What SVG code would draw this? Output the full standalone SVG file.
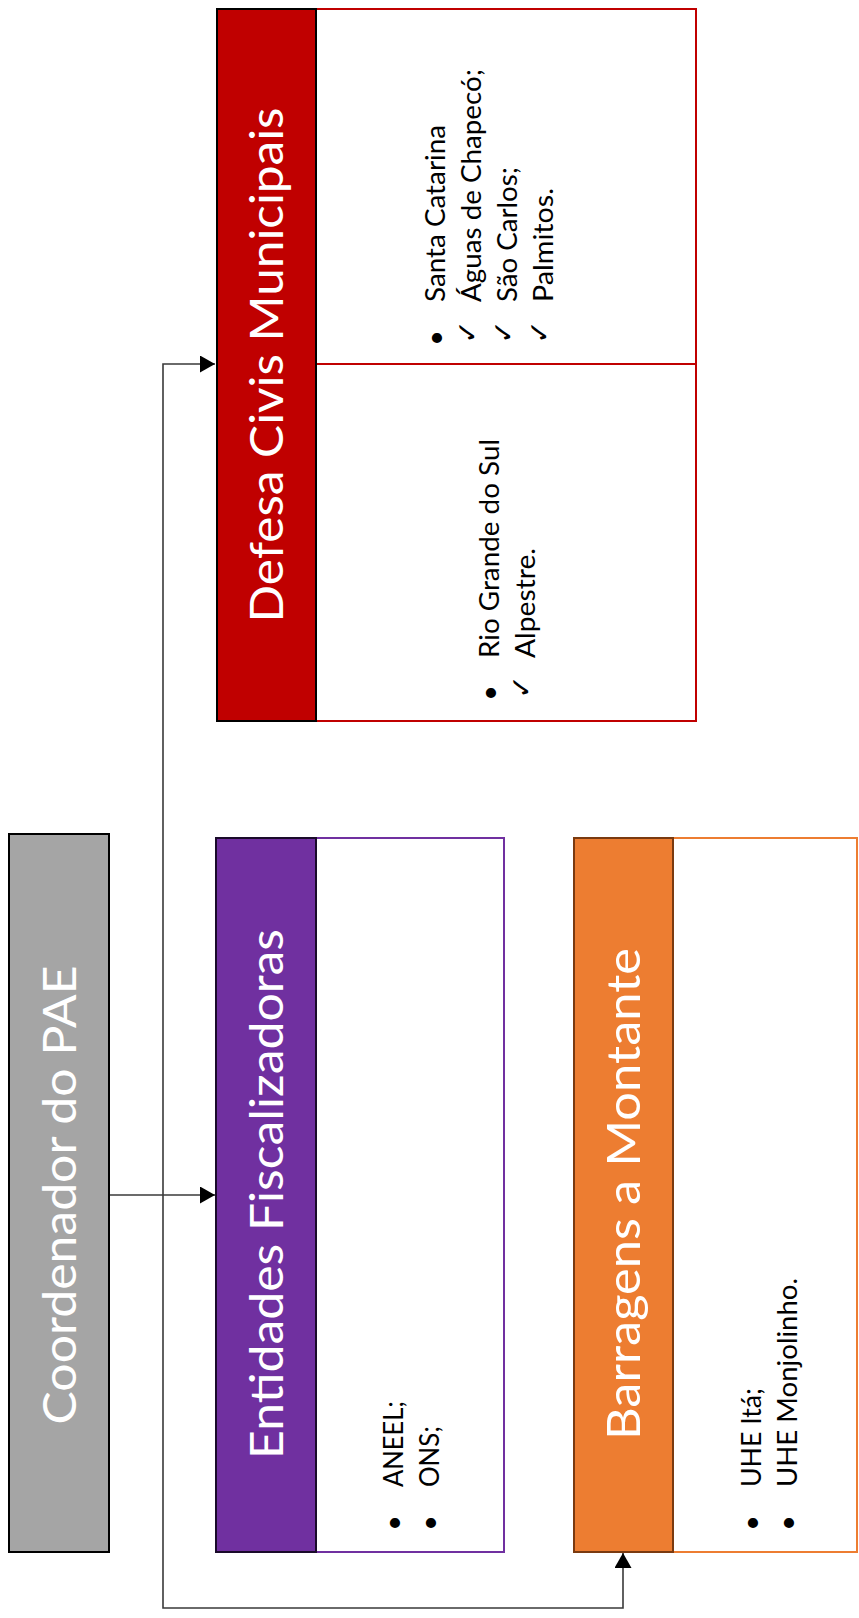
<svg xmlns="http://www.w3.org/2000/svg" width="859" height="1618" viewBox="0 0 859 1618">
  <style>
    .hdr { font-family: Lato, "Noto Sans", sans-serif; font-weight: 400; font-size: 46px; fill: #ffffff; text-anchor: middle; }
    .item { font-family: Lato, "Noto Sans", sans-serif; font-size: 27px; fill: #000000; }
    .dot { font-family: Lato, "Noto Sans", sans-serif; font-size: 27px; fill: #000000; text-anchor: middle; }
    .chk { font-family: "DejaVu Sans", sans-serif; font-size: 28px; fill: #000000; text-anchor: middle; }
    .wire { fill: none; stroke: #3a3a3a; stroke-width: 1.6; }
    .body { fill: #ffffff; stroke-width: 2; }
    .head { stroke-width: 2; }
  </style>
  <defs>
    <marker id="arrow" markerUnits="userSpaceOnUse" markerWidth="16" markerHeight="18" refX="15" refY="8.5" orient="auto">
      <path d="M0,0 L15,8.5 L0,17 z" fill="#000000"/>
    </marker>
  </defs>

  <rect width="859" height="1618" fill="#ffffff"/>

  <!-- connectors -->
  <g id="connectors">
    <path class="wire" d="M109,1195 H215" marker-end="url(#arrow)"/>
    <path class="wire" d="M163,1195 V364 H215" marker-end="url(#arrow)"/>
    <path class="wire" d="M163,1195 V1608 H623 V1553" marker-end="url(#arrow)"/>
  </g>

  <!-- coordinator -->
  <g id="coordenador">
    <rect x="9" y="834" width="100" height="718" fill="#a5a5a5" stroke="#000000" stroke-width="2"/>
    <text class="hdr" transform="translate(75.5,1195) rotate(-90)" textLength="459" lengthAdjust="spacingAndGlyphs">Coordenador do PAE</text>
  </g>

  <!-- municipal civil defence -->
  <g id="defesa-civil">
    <rect class="body" x="316" y="9" width="380" height="712" stroke="#c00000"/>
    <line x1="316" y1="364" x2="696" y2="364" stroke="#c00000" stroke-width="2"/>
    <rect class="head" x="217" y="9" width="99" height="712" fill="#c00000" stroke="#000000"/>
    <text class="hdr" transform="translate(282.5,365) rotate(-90)" textLength="515" lengthAdjust="spacingAndGlyphs">Defesa Civis Municipais</text>

    <text class="dot" transform="translate(445,338) rotate(-90)">•</text>
    <text class="item" transform="translate(445,302) rotate(-90)" textLength="177" lengthAdjust="spacingAndGlyphs">Santa Catarina</text>
    <text class="chk" transform="translate(477,332) rotate(-90)">✓</text>
    <text class="item" transform="translate(481,302) rotate(-90)" textLength="233" lengthAdjust="spacingAndGlyphs">Águas de Chapecó;</text>
    <text class="chk" transform="translate(513,332) rotate(-90)">✓</text>
    <text class="item" transform="translate(517,302) rotate(-90)" textLength="135" lengthAdjust="spacingAndGlyphs">São Carlos;</text>
    <text class="chk" transform="translate(549,332) rotate(-90)">✓</text>
    <text class="item" transform="translate(553,302) rotate(-90)" textLength="114" lengthAdjust="spacingAndGlyphs">Palmitos.</text>

    <text class="dot" transform="translate(499,693) rotate(-90)">•</text>
    <text class="item" transform="translate(499,658) rotate(-90)" textLength="219" lengthAdjust="spacingAndGlyphs">Rio Grande do Sul</text>
    <text class="chk" transform="translate(531,687) rotate(-90)">✓</text>
    <text class="item" transform="translate(535,658) rotate(-90)" textLength="110" lengthAdjust="spacingAndGlyphs">Alpestre.</text>
  </g>

  <!-- supervising bodies -->
  <g id="entidades-fiscalizadoras">
    <rect class="body" x="316" y="838" width="188" height="714" stroke="#7030a0"/>
    <rect class="head" x="216" y="838" width="100" height="714" fill="#7030a0" stroke="#1a0a2a"/>
    <text class="hdr" transform="translate(282.5,1194) rotate(-90)" textLength="530" lengthAdjust="spacingAndGlyphs">Entidades Fiscalizadoras</text>

    <text class="dot" transform="translate(403,1523) rotate(-90)">•</text>
    <text class="item" transform="translate(403,1487) rotate(-90)" textLength="86" lengthAdjust="spacingAndGlyphs">ANEEL;</text>
    <text class="dot" transform="translate(439,1523) rotate(-90)">•</text>
    <text class="item" transform="translate(439,1487) rotate(-90)" textLength="61" lengthAdjust="spacingAndGlyphs">ONS;</text>
  </g>

  <!-- upstream dams -->
  <g id="barragens-montante">
    <rect class="body" x="673" y="838" width="184" height="714" stroke="#ed7d31"/>
    <rect class="head" x="574" y="838" width="99" height="714" fill="#ed7d31" stroke="#7a3a10"/>
    <text class="hdr" transform="translate(640,1194) rotate(-90)" textLength="492" lengthAdjust="spacingAndGlyphs">Barragens a Montante</text>

    <text class="dot" transform="translate(761,1523) rotate(-90)">•</text>
    <text class="item" transform="translate(761,1487) rotate(-90)" textLength="99" lengthAdjust="spacingAndGlyphs">UHE Itá;</text>
    <text class="dot" transform="translate(797,1523) rotate(-90)">•</text>
    <text class="item" transform="translate(797,1487) rotate(-90)" textLength="209" lengthAdjust="spacingAndGlyphs">UHE Monjolinho.</text>
  </g>
</svg>
